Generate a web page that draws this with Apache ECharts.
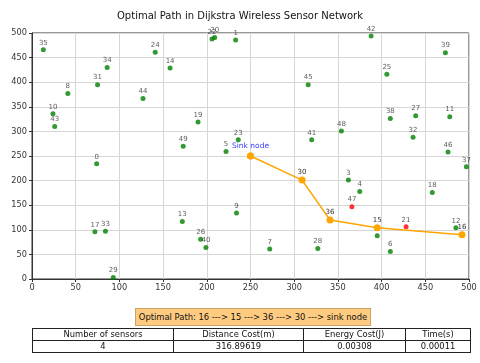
<!DOCTYPE html>
<html>
<head>
    <meta charset="utf-8">
    <title>Optimal Path in Dijkstra Wireless Sensor Network</title>
    <script src="https://cdn.jsdelivr.net/npm/echarts@6/dist/echarts.min.js"></script>
    <style>
        body { margin: 0; background: #fff; font-family: "DejaVu Sans", sans-serif; }
        #wrap { position: relative; width: 480px; height: 363px; }
        #chart { position: absolute; left: 0; top: 0; width: 480px; height: 363px; }
        #caption {
            position: absolute; left: 135px; top: 308px; width: 236px; height: 18px;
            background: #ffcb80; border: 1px solid #c9a46a; box-sizing: border-box;
            font-size: 8.4px; line-height: 16px; text-align: center; color: #111; white-space: nowrap;
        }
        #tbl {
            position: absolute; left: 32px; top: 328px; table-layout: fixed;
            border-collapse: collapse; font-size: 8.4px; color: #111;
        }
        #tbl td {
            border: 1px solid #222; text-align: center; height: 11px; padding: 0;
            line-height: 11px; white-space: nowrap; overflow: hidden;
        }
    </style>
</head>
<body>
<div id="wrap">
    <div id="chart"></div>
    <div id="caption"></div>
    <table id="tbl">
        <tr id="hdr"></tr>
        <tr id="val"></tr>
    </table>
</div>
<script type="text/javascript">
    // 节点坐标
    var nodeIds = [0, 1, 2, 3, 4, 5, 6, 7, 8, 9,
        10, 11, 12, 13, 14, 15, 16, 17, 18, 19,
        20, 21, 22, 23, 24, 25, 26, 27, 28, 29,
        30, 31, 32, 33, 34, 35, 36, 37, 38, 39,
        40, 41, 42, 43, 44, 45, 46, 47, 48, 49];
    var nodeX = [74, 233, 395, 362, 375, 222, 410, 272, 41, 234,
        24, 478, 485, 172, 158, 395, 492, 72, 458, 190,
        209, 428, 206, 236, 141, 406, 193, 439, 327, 93,
        309, 75, 436, 84, 86, 13, 341, 497, 410, 473,
        199, 320, 388, 26, 127, 316, 476, 366, 354, 173];
    var nodeY = [234, 486, 88, 201, 178, 259, 56, 61, 377, 134,
        336, 330, 104, 117, 429, 104, 90, 96, 176, 319,
        491, 106, 488, 283, 461, 416, 81, 332, 62, 3,
        201, 395, 288, 97, 430, 466, 120, 228, 326, 460,
        64, 283, 494, 310, 367, 395, 258, 147, 301, 270];
    var deadNodes = [47, 21];
    var pathIds = [16, 15, 36, 30];
    var sink = [250, 250];

    var pathText = 'Optimal Path: 16 ---> 15 ---> 36 ---> 30 ---> sink node';
    var tableHeaders = ['Number of sensors', 'Distance Cost(m)', 'Energy Cost(J)', 'Time(s)'];
    var tableValues = ['4', '316.89619', '0.00308', '0.00011'];
    var colWidths = [140, 129, 101, 64];

    var normal = [], dead = [], pathPts = [];
    nodeIds.forEach(function (id, i) {
        var p = { value: [nodeX[i], nodeY[i]], name: String(id) };
        if (deadNodes.indexOf(id) >= 0) dead.push(p);
        else if (pathIds.indexOf(id) < 0) normal.push(p);
    });
    pathIds.forEach(function (id) {
        var i = nodeIds.indexOf(id);
        pathPts.push({ value: [nodeX[i], nodeY[i]], name: String(id) });
    });
    pathPts.push({ value: sink, name: 'Sink node', label: { show: false } });

    var numLabel = {
        show: true, position: 'top', distance: 1, formatter: '{b}',
        fontSize: 7, color: '#333', fontFamily: 'DejaVu Sans'
    };

    var myChart = echarts.init(document.getElementById('chart'));
    myChart.setOption({
        animation: false,
        title: {
            text: 'Optimal Path in Dijkstra Wireless Sensor Network',
            left: 'center', top: 6,
            textStyle: { fontSize: 10, fontWeight: 'normal', color: '#111', fontFamily: 'DejaVu Sans' }
        },
        grid: { left: 32, right: 11, top: 33, bottom: 84, show: true, borderColor: '#333', borderWidth: 1 },
        xAxis: {
            type: 'value', min: 0, max: 500, interval: 50,
            axisLine: { lineStyle: { color: '#333' } },
            axisTick: { show: true, length: 3, lineStyle: { color: '#333' } },
            axisLabel: { fontSize: 8.2, color: '#333', margin: 5, fontFamily: 'DejaVu Sans' },
            splitLine: { lineStyle: { color: '#d6d6d6' } }
        },
        yAxis: {
            type: 'value', min: 0, max: 500, interval: 50,
            axisLine: { show: true, lineStyle: { color: '#333' } },
            axisTick: { show: true, length: 3, lineStyle: { color: '#333' } },
            axisLabel: { fontSize: 8.2, color: '#333', margin: 5, fontFamily: 'DejaVu Sans' },
            splitLine: { lineStyle: { color: '#d6d6d6' } }
        },
        series: [
            {
                type: 'scatter', data: normal, symbolSize: 5,
                itemStyle: { color: '#008000' }, label: numLabel
            },
            {
                type: 'scatter', data: dead, symbolSize: 5,
                itemStyle: { color: '#ff0000' }, label: numLabel
            },
            {
                type: 'line', data: pathPts, symbol: 'circle', symbolSize: 7,
                lineStyle: { color: '#ffa500', width: 1.5 },
                itemStyle: { color: '#ffa500' },
                label: numLabel,
                z: 3
            },
            {
                type: 'scatter', data: [{ value: sink, name: 'Sink node' }], symbolSize: 7,
                itemStyle: { color: '#ffa500' },
                label: {
                    show: true, position: [-15, -10], align: 'left', verticalAlign: 'top',
                    formatter: '{b}', fontSize: 7.5, color: '#0000ff', fontFamily: 'DejaVu Sans'
                },
                z: 4
            }
        ]
    });

    // 底部路径说明和表格
    document.getElementById('caption').textContent = pathText;
    var hdr = document.getElementById('hdr'), val = document.getElementById('val');
    tableHeaders.forEach(function (h, i) {
        var td = document.createElement('td');
        td.textContent = h;
        td.style.width = colWidths[i] + 'px';
        hdr.appendChild(td);
        var td2 = document.createElement('td');
        td2.textContent = tableValues[i];
        val.appendChild(td2);
    });
</script>
</body>
</html>
